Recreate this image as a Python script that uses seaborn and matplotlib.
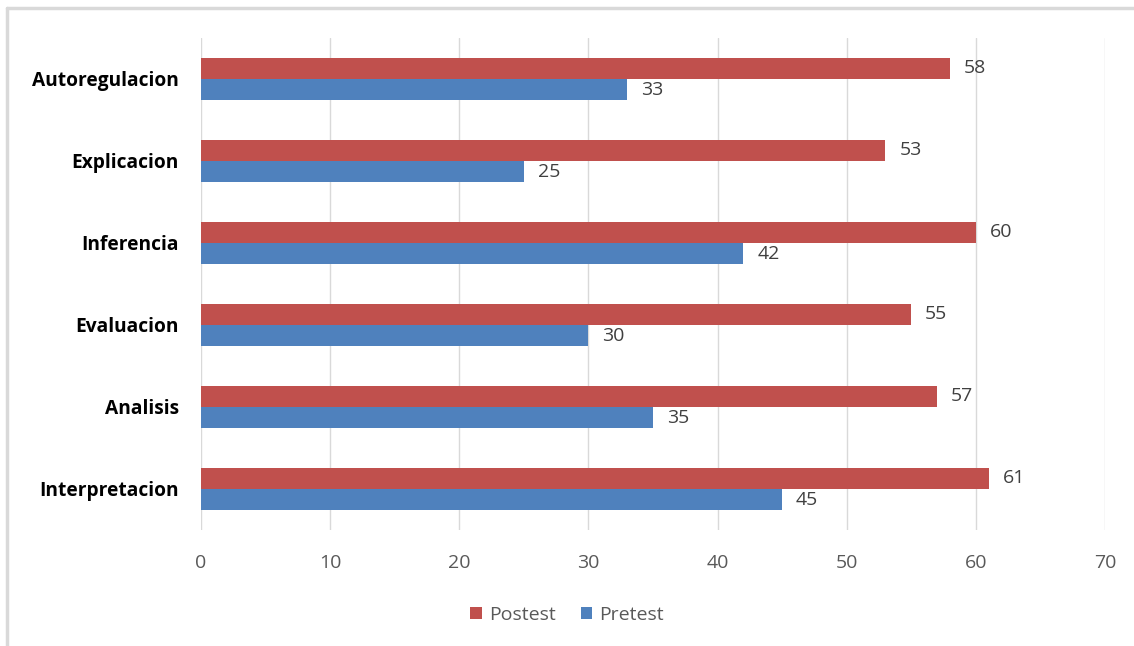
import pandas as pd
import matplotlib.pyplot as plt
import seaborn as sns
from matplotlib.patches import Patch
from matplotlib.lines import Line2D

# Data
categories = ['Autoregulacion', 'Explicacion', 'Inferencia', 'Evaluacion', 'Analisis', 'Interpretacion']
postest = [58, 53, 60, 55, 57, 61]
pretest = [33, 25, 42, 30, 35, 45]
series = ['Postest', 'Pretest']
colors = ['#C0504D', '#4F81BD']
xticks = [0, 10, 20, 30, 40, 50, 60, 70]

df = pd.DataFrame({
    'categoria': categories * 2,
    'valor': postest + pretest,
    'serie': ['Postest'] * len(categories) + ['Pretest'] * len(categories),
})

sns.set_style('white')
plt.rcParams['font.family'] = ['Open Sans', 'DejaVu Sans']

fig = plt.figure(figsize=(11.34, 6.46), dpi=100)
ax = fig.add_axes([0.1772, 0.1796, 0.7972, 0.7616])

sns.barplot(data=df, y='categoria', x='valor', hue='serie', order=categories,
            hue_order=series, palette=colors, orient='h', width=0.52, gap=0,
            saturation=1, edgecolor='none', ax=ax, legend=False)

for cont in ax.containers:
    labels = ax.bar_label(cont, padding=10, fontsize=14, color='#404040')
    for t in labels:
        t.set_y(t.get_position()[1] - 0.02)

ax.set_xlim(0, 70)
ax.set_xticks(xticks)
ax.set_xlabel('')
ax.set_ylabel('')
ax.xaxis.grid(True, color='#D9D9D9', linewidth=1)
ax.set_axisbelow(True)
for s in ax.spines.values():
    s.set_visible(False)
ax.tick_params(axis='x', length=0, pad=17, labelsize=14, labelcolor='#595959')
ax.tick_params(axis='y', length=0, pad=16, labelsize=13.8)
for lab in ax.get_yticklabels():
    lab.set_fontweight('bold')
    lab.set_color('black')

handles = [Patch(facecolor=c, edgecolor='none') for c in colors]
fig.legend(handles, series, loc='center', bbox_to_anchor=(0.5, 0.048), ncol=2,
           frameon=False, fontsize=14, labelcolor='#595959', handlelength=0.6,
           handleheight=0.6, handletextpad=0.35, columnspacing=1.3)

# outer frame (top and left edges only)
fig.add_artist(Line2D([7 / 1134, 1], [1 - 8 / 646, 1 - 8 / 646], color='#D9D9D9', lw=2.5,
                      transform=fig.transFigure))
fig.add_artist(Line2D([7 / 1134, 7 / 1134], [0, 1 - 8 / 646], color='#D9D9D9', lw=2.5,
                      transform=fig.transFigure))

fig.savefig('out.png', dpi=100)
